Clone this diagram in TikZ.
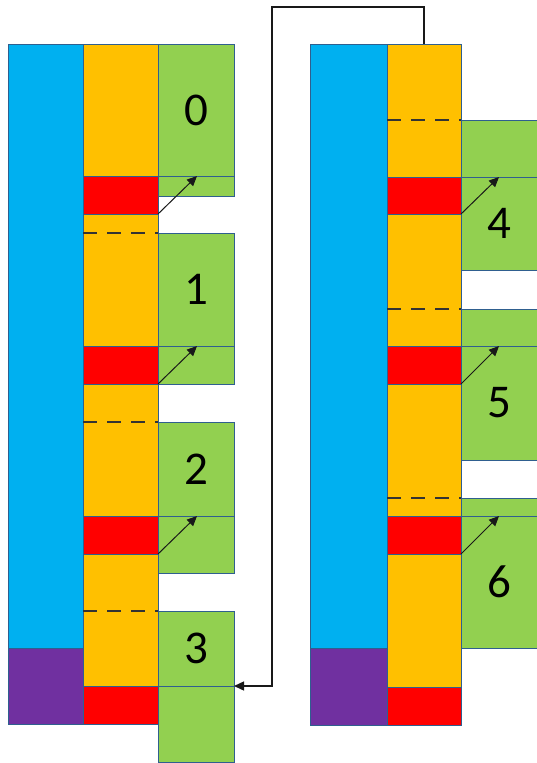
\documentclass[tikz,border=0pt]{standalone}
\usepackage{fontspec}
\setmainfont{Carlito}
\usetikzlibrary{fit,arrows.meta}
\definecolor{cblue}{HTML}{00B0F0}
\definecolor{corange}{HTML}{FFC000}
\definecolor{cred}{HTML}{FF0000}
\definecolor{cgreen}{HTML}{92D050}
\definecolor{cpurple}{HTML}{7030A0}
\definecolor{edge}{HTML}{2F5F8F}
\newcommand\blk[6]{\node[blk,fill=#2,fit={(#3,#4) (#5,#6)}] (#1) {};}
\begin{document}
\begin{tikzpicture}[x=1pt,y=-1pt,
  blk/.style={draw=edge, line width=0.9pt, inner sep=0pt, outer sep=0pt},
  lbl/.style={inner sep=0pt, anchor=center, font=\fontsize{47}{50}\selectfont},
  dsh/.style={draw=black!80, line width=2.4pt, dash pattern=on 14pt off 10pt},
  arr/.style={draw=black!90, line width=1pt, -{Triangle[length=10pt,width=9pt]}},
  conn/.style={draw=black!90, line width=1.4pt, -{Triangle[length=10pt,width=9pt]}}]
\useasboundingbox (0,0) rectangle (537,763);
% left column
\blk{LB}{cblue}{8}{44}{83}{648}
\blk{LP}{cpurple}{8}{648}{83}{724}
\blk{LO0}{corange}{83}{44}{158}{176}
\blk{LR0}{cred}{83}{176}{158}{214}
\blk{LO1}{corange}{83}{214}{158}{346}
\blk{LR1}{cred}{83}{346}{158}{384}
\blk{LO2}{corange}{83}{384}{158}{516}
\blk{LR2}{cred}{83}{516}{158}{554}
\blk{LO3}{corange}{83}{554}{158}{686}
\blk{LR3}{cred}{83}{686}{158}{724}
\blk{G0}{cgreen}{158}{44}{234}{176}
\blk{G0b}{cgreen}{158}{176}{234}{196}
\blk{G1}{cgreen}{158}{233}{234}{346}
\blk{G1b}{cgreen}{158}{346}{234}{384}
\blk{G2}{cgreen}{158}{422}{234}{516}
\blk{G2b}{cgreen}{158}{516}{234}{573}
\blk{G3}{cgreen}{158}{611}{234}{686}
\blk{G3b}{cgreen}{158}{686}{234}{762}
\draw[dsh] (83,233) -- (158,233);
\draw[dsh] (83,422) -- (158,422);
\draw[dsh] (83,611) -- (158,611);
\node[lbl] (T0) at (G0.center) {0};
\node[lbl] (T1) at (G1.center) {1};
\node[lbl] (T2) at (G2.center) {2};
\node[lbl] (T3) at (G3.center) {3};
% right column
\blk{RB}{cblue}{310}{44}{387}{648}
\blk{RP}{cpurple}{310}{648}{387}{725}
\blk{RO0}{corange}{387}{44}{461}{177}
\blk{RR0}{cred}{387}{177}{461}{214}
\blk{RO1}{corange}{387}{214}{461}{346}
\blk{RR1}{cred}{387}{346}{461}{384}
\blk{RO2}{corange}{387}{384}{461}{516}
\blk{RR2}{cred}{387}{516}{461}{554}
\blk{RO3}{corange}{387}{554}{461}{687}
\blk{RR3}{cred}{387}{687}{461}{725}
\blk{G4a}{cgreen}{461}{120}{537}{177}
\blk{G4}{cgreen}{461}{177}{537}{270}
\blk{G5a}{cgreen}{461}{309}{537}{346}
\blk{G5}{cgreen}{461}{346}{537}{460}
\blk{G6a}{cgreen}{461}{498}{537}{516}
\blk{G6}{cgreen}{461}{516}{537}{648}
\draw[dsh] (387,120) -- (461,120);
\draw[dsh] (387,309) -- (461,309);
\draw[dsh] (387,498) -- (461,498);
\node[lbl] (T4) at (G4.center) {4};
\node[lbl] (T5) at (G5.center) {5};
\node[lbl] (T6) at (G6.center) {6};
% small arrows
\draw[arr] (LR0.south east) -- ([xshift=39pt]G0b.north west);
\draw[arr] (LR1.south east) -- ([xshift=39pt]G1b.north west);
\draw[arr] (LR2.south east) -- ([xshift=39pt]G2b.north west);
\draw[arr] (RR0.south east) -- ([xshift=38pt]G4.north west);
\draw[arr] (RR1.south east) -- ([xshift=38pt]G5.north west);
\draw[arr] (RR2.south east) -- ([xshift=38pt]G6.north west);
% long connector
\draw[conn] (RO0.north) -- ++(0,-37) -| ([xshift=38pt]G3b.north east) -- (G3b.north east);
\end{tikzpicture}
\end{document}
